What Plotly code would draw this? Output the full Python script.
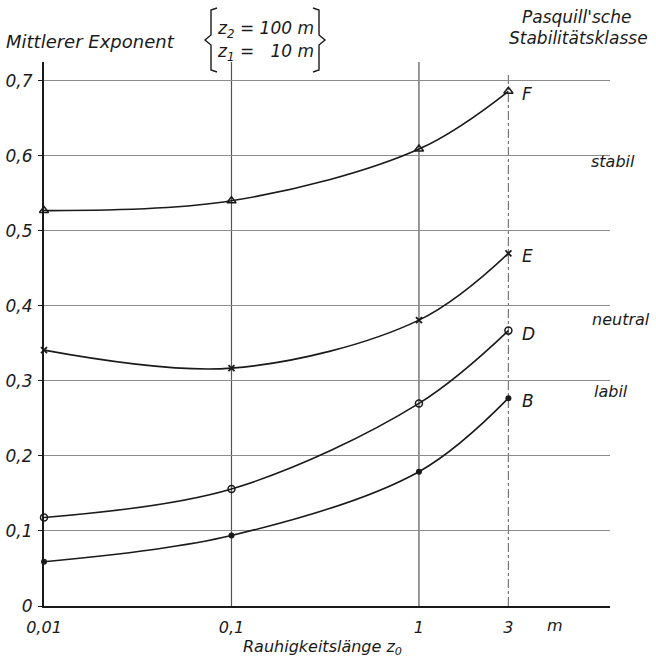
import math
import plotly.graph_objects as go

# ---- data ----
z0 = [0.01, 0.1, 1, 3]
exp_F = [0.527, 0.540, 0.609, 0.686]
exp_E = [0.341, 0.317, 0.381, 0.470]
exp_D = [0.118, 0.156, 0.270, 0.367]
exp_B = [0.059, 0.094, 0.179, 0.277]
x_tickvals = [0.01, 0.1, 1, 3]
x_ticktext = ["0,01", "0,1", "1", "3"]
y_tickvals = [0, 0.1, 0.2, 0.3, 0.4, 0.5, 0.6, 0.7]
y_ticktext = ["0", "0,1", "0,2", "0,3", "0,4", "0,5", "0,6", "0,7"]
class_names = ["F", "E", "D", "B"]
regime_labels = ["stabil", "neutral", "labil"]

FONT = "DejaVu Sans"
INK = "#1a1a1a"

# layout geometry (pixels)
W_FIG, H_FIG = 656, 663
L, R, T, B = 44, 46, 62, 57
PW, PH = W_FIG - L - R, H_FIG - T - B


def px(x):
    return (x - L) / PW


def py(y):
    return (H_FIG - B - y) / PH


fig = go.Figure()

series = [
    (exp_F, dict(symbol="triangle-up-open", size=8, line=dict(width=1.5, color=INK))),
    (exp_E, dict(symbol="x-thin", size=6, line=dict(width=1.8, color=INK))),
    (exp_D, dict(symbol="circle-open", size=7, line=dict(width=1.5, color=INK))),
    (exp_B, dict(symbol="circle", size=6)),
]
for (vals, mk), name in zip(series, class_names):
    fig.add_trace(go.Scatter(
        x=z0, y=vals, mode="lines+markers", name=name,
        line=dict(color=INK, width=1.6, shape="spline", smoothing=1.0),
        marker=dict(color=INK, **mk), showlegend=False, cliponaxis=False,
    ))

# vertical grid lines at the tick positions (except the axis itself)
for xv in x_tickvals[1:]:
    fig.add_shape(type="line", xref="x", yref="paper", x0=xv, x1=xv, y0=0,
                  y1=1 if xv != 3 else py(72),
                  line=dict(color="#555" if xv != 3 else "#777", width=1.2,
                            dash="solid" if xv != 3 else "dashdot"), layer="below")

fig.update_xaxes(
    type="log", range=[-2, 1.019], tickvals=x_tickvals, ticktext=x_ticktext,
    showgrid=False, zeroline=False, showline=True, linecolor=INK, linewidth=1.6,
    ticks="outside", ticklen=0, ticklabelstandoff=6, automargin=False,
    tickfont=dict(family=FONT, size=16, color=INK, style="italic"),
)
fig.update_yaxes(
    range=[0, 0.725], tickvals=y_tickvals, ticktext=y_ticktext,
    showgrid=True, gridcolor="#8c8c8c", gridwidth=1, zeroline=False,
    showline=True, linecolor=INK, linewidth=2, ticks="outside", ticklen=4,
    automargin=False, ticklabelstandoff=2,
    tickcolor=INK, tickfont=dict(family=FONT, size=17, color=INK, style="italic"),
)

ann = []


def text(x, y, s, size=15, xa="left", ya="middle"):
    ann.append(dict(x=px(x), y=py(y), xref="paper", yref="paper", text=s, showarrow=False,
                    xanchor=xa, yanchor=ya,
                    font=dict(family=FONT, size=size, color=INK, style="italic")))


text(4, 42, "Mittlerer Exponent", 18)
text(215, 29, "z<sub>2</sub> = 100 m", 17)
text(215, 52, "z<sub>1</sub> =   10 m", 17)
text(576, 17, "Pasquill'sche", 17, xa="center")
text(578, 38, "Stabilitätsklasse", 17, xa="center")
text(545, 625, "m", 16)
text(322, 647, "Rauhigkeitslänge z<sub>0</sub>", 16, xa="center")
text(589, 161, regime_labels[0], 16)
text(590, 319, regime_labels[1], 16)
text(592, 391, regime_labels[2], 16)

# class labels next to last points
for vals, name in zip([exp_F, exp_E, exp_D, exp_B], class_names):
    ann.append(dict(x=math.log10(z0[-1]), y=vals[-1], xref="x", yref="y", text=name,
                    showarrow=False, xanchor="left", yanchor="middle", xshift=12, yshift=-3,
                    font=dict(family=FONT, size=17, color=INK, style="italic")))

fig.update_layout(annotations=ann)

# braces
def path(points):
    return "M " + " L ".join(f"{px(a)} {py(b)}" for a, b in points)


fig.add_shape(type="path", xref="paper", yref="paper",
              path=path([(217, 8), (211, 10), (211, 35), (205, 40), (211, 45), (211, 70), (217, 72)]),
              line=dict(color=INK, width=1.4))
fig.add_shape(type="path", xref="paper", yref="paper",
              path=path([(313, 8), (319, 10), (319, 35), (325, 40), (319, 45), (319, 70), (313, 72)]),
              line=dict(color=INK, width=1.4))

fig.update_layout(
    width=W_FIG, height=H_FIG,
    margin=dict(l=L, r=R, t=T, b=B),
    paper_bgcolor="white", plot_bgcolor="white",
    font=dict(family=FONT, color=INK),
)

fig.write_html("out.html")
